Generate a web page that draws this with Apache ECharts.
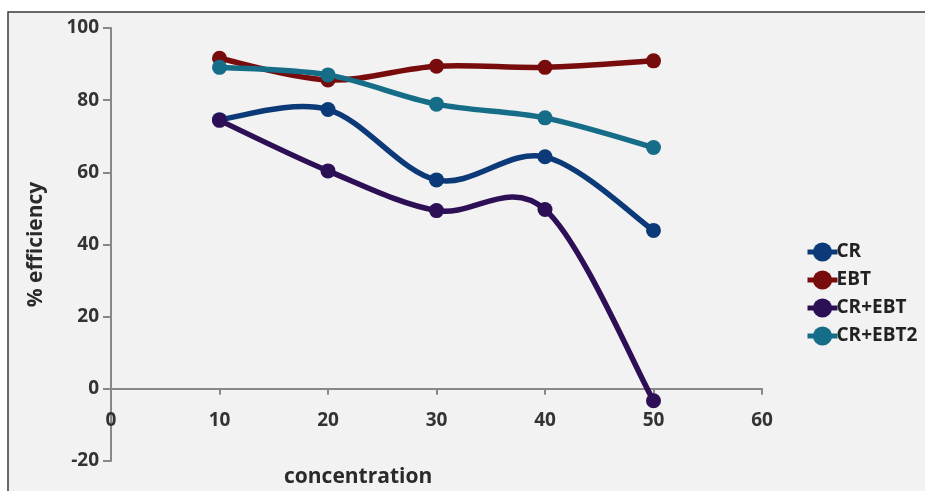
<!DOCTYPE html>
<html><head><meta charset="utf-8">
<script src="https://cdn.jsdelivr.net/npm/echarts@6/dist/echarts.min.js"></script>
<style>html,body{margin:0;padding:0;background:#fff}#c{width:925px;height:491px}</style>
</head><body><div id="c"></div>
<script>
const concentration = [10, 20, 30, 40, 50];
const seriesNames = ['CR', 'EBT', 'CR+EBT', 'CR+EBT2'];
const crValues = [74.6, 77.4, 57.9, 64.3, 43.9];
const ebtValues = [91.6, 85.6, 89.4, 89.1, 90.9];
const crEbtValues = [74.4, 60.4, 49.4, 49.7, -3.3];
const crEbt2Values = [89.1, 87.0, 78.9, 75.1, 66.9];
const xTicks = [0, 10, 20, 30, 40, 50, 60];
const yTicks = [-20, 0, 20, 40, 60, 80, 100];
const colors = ['#0c3a78', '#780c0c', '#2d0f55', '#156d88'];

const allValues = [crValues, ebtValues, crEbtValues, crEbt2Values];
const GRID_TOP = 28, GRID_BOTTOM = 30;
const chart = echarts.init(document.getElementById('c'));
const plotH = 491 - GRID_TOP - GRID_BOTTOM;
const yMin = yTicks[0], yMax = yTicks[yTicks.length - 1];
const zeroOffset = -plotH * (0 - yMin) / (yMax - yMin);
const labelFont = { fontFamily: 'Open Sans', fontWeight: 'bold', color: '#333' };

// Excel-like smoothed curve drawn through the data via the chart's own scales
function curveRender(values, color) {
  return function (params, api) {
    if (params.dataIndex !== 0) return null;
    const pts = concentration.map((x, j) => api.coord([x, values[j]]));
    const children = [];
    for (let i = 0; i < pts.length - 1; i++) {
      const p0 = pts[Math.max(i - 1, 0)], p1 = pts[i], p2 = pts[i + 1], p3 = pts[Math.min(i + 2, pts.length - 1)];
      children.push({
        type: 'bezierCurve',
        shape: {
          x1: p1[0], y1: p1[1], x2: p2[0], y2: p2[1],
          cpx1: p1[0] + (p2[0] - p0[0]) / 6, cpy1: p1[1] + (p2[1] - p0[1]) / 6,
          cpx2: p2[0] - (p3[0] - p1[0]) / 6, cpy2: p2[1] - (p3[1] - p1[1]) / 6
        },
        style: { stroke: color, lineWidth: 5.5, fill: null, lineCap: 'round' }
      });
    }
    return { type: 'group', children: children };
  };
}

const series = [];
seriesNames.forEach((n, i) => {
  series.push({
    name: n, type: 'line', z: 3,
    data: concentration.map((x, j) => [x, allValues[i][j]]),
    symbol: 'circle', symbolSize: 15,
    lineStyle: { color: colors[i], width: 0, opacity: 0 },
    itemStyle: { color: colors[i] }
  });
});
seriesNames.forEach((n, i) => {
  series.push({
    name: n, type: 'custom', z: 2,
    renderItem: curveRender(allValues[i], colors[i]),
    data: concentration.map((x, j) => [x, allValues[i][j]]),
    silent: true
  });
});

chart.setOption({
  animation: false,
  backgroundColor: '#ffffff',
  graphic: [
    { type: 'rect', z: -10, shape: { x: 8, y: 12, width: 1000, height: 1000 },
      style: { fill: '#f2f2f2', stroke: '#3a3a3a', lineWidth: 1.5 } },
    { type: 'text', left: 284, top: 467,
      style: { text: 'concentration', font: 'bold 21px "Open Sans"', fill: '#2a2a2a' } }
  ],
  grid: { left: 111, right: 163, top: GRID_TOP, bottom: GRID_BOTTOM, containLabel: false },
  legend: {
    orient: 'vertical', left: 800, top: 235, itemGap: 4,
    itemWidth: 30, itemHeight: 24,
    textStyle: { fontFamily: 'Open Sans', fontWeight: 'bold', fontSize: 19, lineHeight: 24, color: '#222', padding: [0, 0, 0, -6] },
    data: seriesNames.map((n, i) => ({
      name: n,
      itemStyle: { color: colors[i] },
      lineStyle: { color: colors[i], width: 5, opacity: 1 }
    }))
  },
  xAxis: {
    type: 'value', min: xTicks[0], max: xTicks[xTicks.length - 1], interval: 10,
    offset: zeroOffset,
    axisLine: { onZero: false, lineStyle: { color: '#888', width: 2 } },
    axisTick: { show: true, length: 6, lineStyle: { color: '#888', width: 2 } },
    axisLabel: Object.assign({ fontSize: 19, margin: 22 }, labelFont),
    splitLine: { show: false }
  },
  yAxis: {
    type: 'value', min: yMin, max: yMax, interval: 20,
    name: '% efficiency', nameLocation: 'middle', nameGap: 64,
    nameTextStyle: { fontFamily: 'Open Sans', fontWeight: 'bold', fontSize: 21, color: '#2a2a2a' },
    axisLine: { show: true, lineStyle: { color: '#888', width: 2 } },
    axisTick: { show: true, length: 8, lineStyle: { color: '#888', width: 2 } },
    axisLabel: Object.assign({ fontSize: 19, margin: 12 }, labelFont),
    splitLine: { show: false }
  },
  series: series
});
</script></body></html>
